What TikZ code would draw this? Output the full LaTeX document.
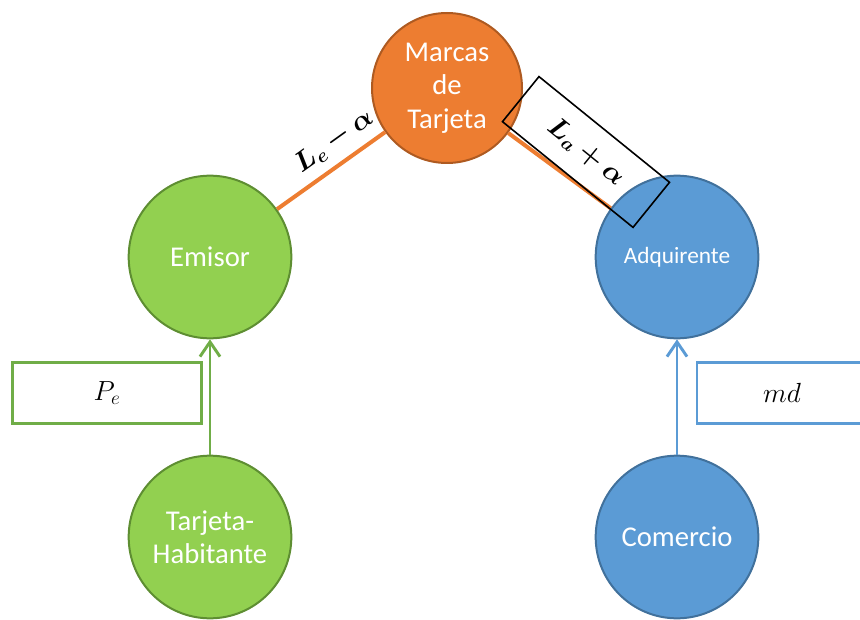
\documentclass[tikz,border=0pt]{standalone}
\usepackage{fontspec}
\usepackage{bm}
\newfontfamily\calibri{Carlito}
\usetikzlibrary{arrows.meta}
\definecolor{naranja}{HTML}{ED7D31}
\definecolor{naranjaborde}{HTML}{AE5A21}
\definecolor{verde}{HTML}{92D050}
\definecolor{verdeborde}{HTML}{5E8E32}
\definecolor{verdelinea}{HTML}{70AD47}
\definecolor{azul}{HTML}{5B9BD5}
\definecolor{azulborde}{HTML}{41719C}

\begin{document}
\begin{tikzpicture}[x=0.75pt,y=-0.75pt,>={Straight Barb[length=11pt,width=15pt]},
    main node/.style={circle,draw,line width=1.5pt,minimum size=122pt,inner sep=0pt,align=center,text=white,font=\calibri\fontsize{21.5}{25}\selectfont},
    etiqueta/.style={font=\fontsize{22}{26}\selectfont},
    valor/.style={draw,line width=2pt,minimum height=45.5pt,font=\fontsize{21}{25}\selectfont}]
                \useasboundingbox (0,0) rectangle (860,620);
                \node[main node,fill=naranja,draw=naranjaborde,minimum size=112.5pt] (1) at (447,88) {Marcas\\de\\Tarjeta};
                \node[main node,fill=verde,draw=verdeborde] (2) at (210,257) {Emisor};
                \node[main node,fill=azul,draw=azulborde,font=\calibri\fontsize{17.5}{21}\selectfont] (3) at (677,257) {Adquirente};
                \node[main node,fill=verde,draw=verdeborde] (4) at (210,537) {Tarjeta-\\Habitante};
                \node[main node,fill=azul,draw=azulborde] (5) at (677,537) {Comercio};

                \draw[naranja,line width=3pt] (2) -- (1);
                \draw[naranja,line width=3pt] (1) -- (3);
                \node[etiqueta,rotate=35.6] (6) at (334,141) {$\bm{L_e-\alpha}$};
                \node[etiqueta,draw,line width=1.2pt,minimum width=126pt,minimum height=43.5pt,rotate=-39] (7) at (586,152) {$\bm{L_a+\alpha}$};

                \draw[->,verdelinea,line width=2.2pt] (4) -- (2);
                \draw[->,azul,line width=2.2pt] (5) -- (3);
                \node[valor,draw=verdelinea,minimum width=142pt] (8) at (107,393) {$P_e$};
                \node[valor,draw=azul,minimum width=127.5pt] (9) at (782,393) {$md$};
            \end{tikzpicture}
\end{document}
